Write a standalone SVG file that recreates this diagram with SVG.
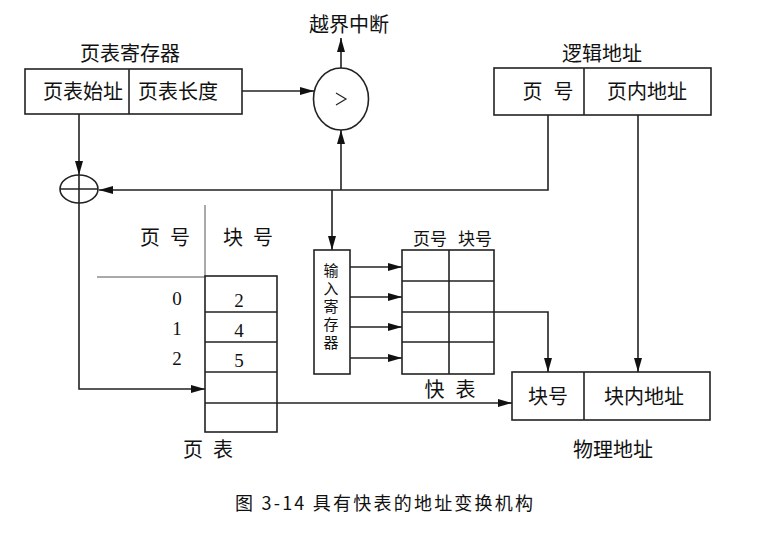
<svg xmlns="http://www.w3.org/2000/svg" width="761" height="537" viewBox="0 0 761 537">
<style>
.t{font-family:"Noto Sans CJK SC","Noto Sans",sans-serif;font-size:20px;fill:#111;text-anchor:middle;dominant-baseline:central}
.n{font-family:"Liberation Serif",serif;font-size:19px;fill:#111;text-anchor:middle;dominant-baseline:central}
.b{fill:#fff;stroke:#222;stroke-width:1.6}
.l{fill:none;stroke:#222;stroke-width:1.6}
.thin{fill:none;stroke:#555;stroke-width:1}
</style>
<defs>
<marker id="a" viewBox="0 0 14 8" refX="14" refY="4" markerWidth="14" markerHeight="8" markerUnits="userSpaceOnUse" orient="auto">
<path d="M0,0 L14,4 L0,8 Z" fill="#111"/>
</marker>
</defs>
<rect width="761" height="537" fill="#fff"/>

<g id="connectors">
<line class="l" x1="242" y1="91" x2="314" y2="91" marker-end="url(#a)"/>
<line class="l" x1="341" y1="68" x2="341" y2="38" marker-end="url(#a)"/>
<line class="l" x1="341" y1="190" x2="341" y2="130" marker-end="url(#a)"/>
<polyline class="l" points="548,115 548,190 99,190" marker-end="url(#a)"/>
<line class="l" x1="79" y1="114" x2="79" y2="175" marker-end="url(#a)"/>
<polyline class="l" points="79,203 79,389 205,389" marker-end="url(#a)"/>
<line class="l" x1="332" y1="190" x2="332" y2="250" marker-end="url(#a)"/>
<line class="l" x1="350" y1="267" x2="402" y2="267" marker-end="url(#a)"/>
<line class="l" x1="350" y1="297" x2="402" y2="297" marker-end="url(#a)"/>
<line class="l" x1="350" y1="327" x2="402" y2="327" marker-end="url(#a)"/>
<line class="l" x1="350" y1="358" x2="402" y2="358" marker-end="url(#a)"/>
<polyline class="l" points="494,312 548,312 548,372" marker-end="url(#a)"/>
<line class="l" x1="638" y1="115" x2="638" y2="372" marker-end="url(#a)"/>
<line class="l" x1="277" y1="403" x2="512" y2="403" marker-end="url(#a)"/>
</g>

<g id="page-table-register">
<text class="t" x="130" y="52">页表寄存器</text>
<rect class="b" x="25" y="69" width="217" height="45"/>
<line class="l" x1="129" y1="69" x2="129" y2="114"/>
<text class="t" x="83" y="90">页表始址</text>
<text class="t" x="178" y="90">页表长度</text>
</g>

<g id="compare">
<ellipse class="b" cx="341" cy="99" rx="27.5" ry="31"/>
<path d="M336,93 L346,99 L336,105" fill="none" stroke="#222" stroke-width="1.2"/>
<text class="t" x="349" y="23">越界中断</text>
</g>

<g id="adder">
<ellipse class="b" cx="79" cy="189" rx="19" ry="14"/>
<line class="l" x1="60" y1="189" x2="98" y2="189"/>
<line class="l" x1="79" y1="175" x2="79" y2="203"/>
</g>

<g id="logical-address">
<text class="t" x="602" y="52">逻辑地址</text>
<rect class="b" x="494" y="68" width="217" height="47"/>
<line class="l" x1="584" y1="68" x2="584" y2="115"/>
<text class="t" x="548" y="90" textLength="51" lengthAdjust="spacing">页 号</text>
<text class="t" x="647" y="90">页内地址</text>
</g>

<g id="page-table">
<text class="t" x="165" y="236" textLength="50" lengthAdjust="spacing">页 号</text>
<text class="t" x="248" y="236" textLength="50" lengthAdjust="spacing">块 号</text>
<line class="thin" x1="205" y1="205" x2="205" y2="276"/>
<line class="thin" x1="97" y1="277" x2="205" y2="277"/>
<rect class="b" x="205" y="276" width="72" height="156"/>
<line class="l" x1="205" y1="312" x2="277" y2="312"/>
<line class="l" x1="205" y1="342" x2="277" y2="342"/>
<line class="l" x1="205" y1="372" x2="277" y2="372"/>
<line class="l" x1="205" y1="403" x2="277" y2="403"/>
<text class="n" x="177" y="298">0</text>
<text class="n" x="177" y="328">1</text>
<text class="n" x="177" y="358">2</text>
<text class="n" x="239" y="300">2</text>
<text class="n" x="239" y="330">4</text>
<text class="n" x="239" y="360">5</text>
<text class="t" x="208" y="448" textLength="50" lengthAdjust="spacing">页 表</text>
</g>

<g id="input-register">
<rect class="b" x="314" y="250" width="36" height="124"/>
<text class="t" x="331" y="308" writing-mode="vertical-rl" style="font-size:15px;letter-spacing:3px">输入寄存器</text>
</g>

<g id="fast-table">
<text class="t" x="430" y="237" style="font-size:17px">页号</text>
<text class="t" x="475" y="237" style="font-size:17px">块号</text>
<rect class="b" x="402" y="250" width="92" height="124"/>
<line class="l" x1="449" y1="250" x2="449" y2="374"/>
<line class="l" x1="402" y1="281" x2="494" y2="281"/>
<line class="l" x1="402" y1="312" x2="494" y2="312"/>
<line class="l" x1="402" y1="342" x2="494" y2="342"/>
<text class="t" x="450" y="388" textLength="51" lengthAdjust="spacing">快 表</text>
</g>

<g id="physical-address">
<rect class="b" x="512" y="372" width="198" height="48"/>
<line class="l" x1="584" y1="372" x2="584" y2="420"/>
<text class="t" x="548" y="395">块号</text>
<text class="t" x="644" y="395">块内地址</text>
<text class="t" x="613" y="448">物理地址</text>
</g>

<g id="caption">
<text class="t" x="384" y="502" style="font-size:18px" textLength="298" lengthAdjust="spacing">图 3-14 具有快表的地址变换机构</text>
</g>
</svg>
